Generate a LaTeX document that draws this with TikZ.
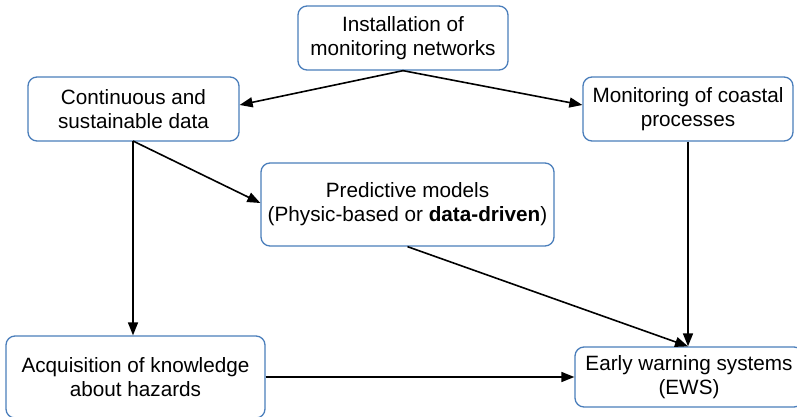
\documentclass[tikz,border=0pt]{standalone}
\usepackage{fontspec}
\setmainfont{Liberation Sans}
\usetikzlibrary{arrows.meta}
\definecolor{boxblue}{HTML}{4A7EBB}
\tikzset{
  x=1pt, y=-1pt,
  stage/.style={draw=boxblue, line width=1.3pt, rounded corners=9pt, fill=white,
    align=center, inner sep=0pt, font=\fontsize{20.7}{24}\selectfont},
  flow/.style={line width=1.6pt, -{Triangle[length=13pt,width=10pt]}}
}
\begin{document}
\begin{tikzpicture}
\useasboundingbox (0,0) rectangle (797,417);
\fill[white] (0,0) rectangle (797,417);

\node[stage, minimum width=210pt, minimum height=64pt] (install) at (403,38)
  {Installation of\\monitoring networks};
\node[stage, minimum width=211pt, minimum height=64pt] (cont) at (133.5,109)
  {Continuous and\\sustainable data};
\node[stage, minimum width=210pt, minimum height=64pt] (coast) at (688,109)
  {Monitoring of coastal\\processes};
\node[stage, minimum width=293pt, minimum height=83pt] (pred) at (407.5,204.5)
  {Predictive models\\(Physic-based or \textbf{data-driven})};
\node[stage, minimum width=259pt, minimum height=82pt] (acq) at (135.5,377)
  {Acquisition of knowledge\\about hazards};
\node[stage, minimum width=228pt, minimum height=60pt] (ews) at (689,377)
  {Early warning systems\\(EWS)};

% connectors leave from the middle of a box edge
\coordinate (contout) at (133,141);
\draw[flow] (install.south) -- (cont.east |- 0,105);
\draw[flow] (install.south) -- (coast.west |- 0,105);
\draw[flow] (contout) -- (acq.north -| contout);
\draw[flow] (contout) -- (pred.west |- 0,203);
\draw[flow] (coast.south) -- (ews.north -| coast.south);
\draw[flow] (pred.south) -- (ews.north -| coast.south);
\draw[flow] (acq.east) -- (ews.west);
\end{tikzpicture}
\end{document}
